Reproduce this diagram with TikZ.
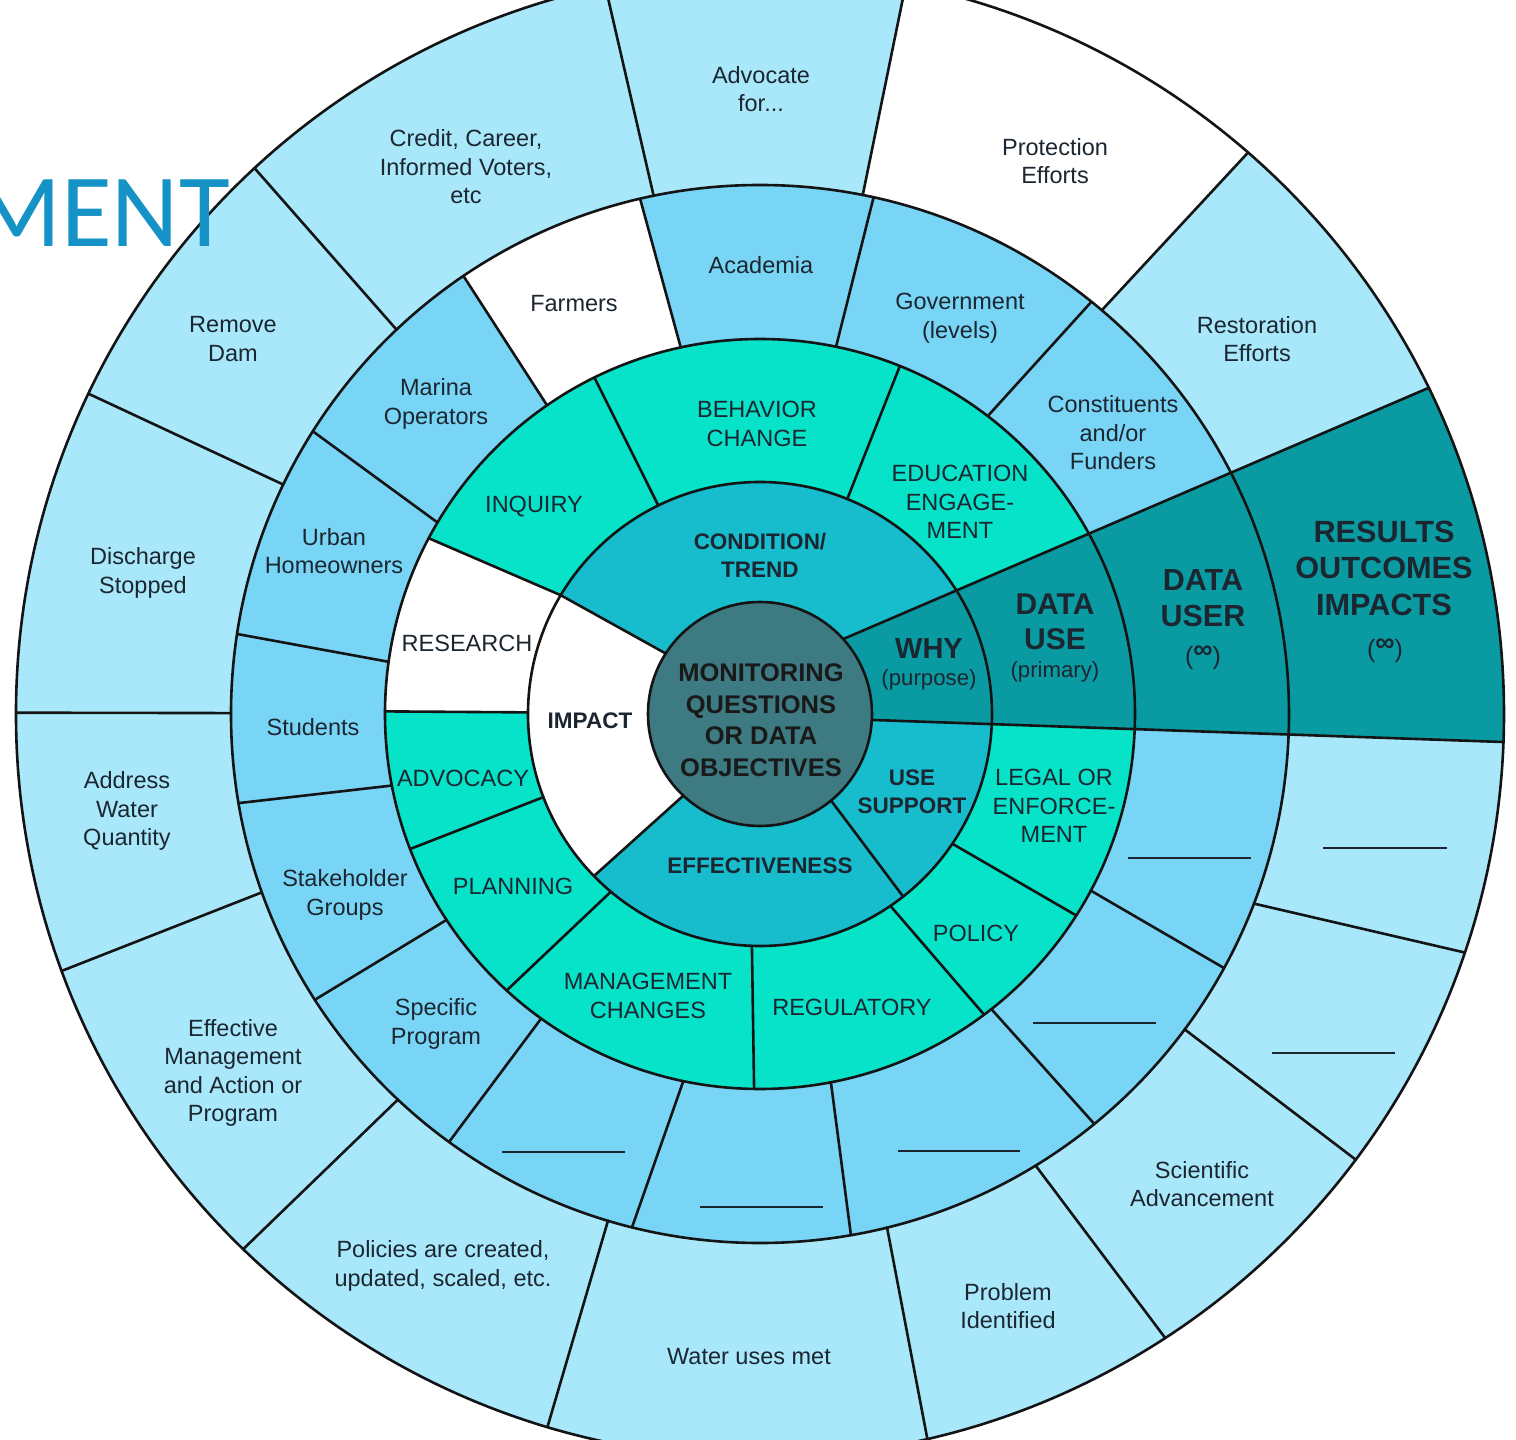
\documentclass[tikz,border=0pt]{standalone}
\usepackage{fontspec}
\setmainfont{Liberation Sans}
\newfontfamily\titlefont{Carlito}
\definecolor{ringA}{HTML}{A8E8FA}
\definecolor{ringB}{HTML}{78D5F5}
\definecolor{ringC}{HTML}{06E3C9}
\definecolor{ringD}{HTML}{17BCCD}
\definecolor{bandc}{HTML}{0A9BA2}
\definecolor{corec}{HTML}{3E7A82}
\definecolor{linec}{HTML}{141414}
\definecolor{txt}{HTML}{1B2630}
\definecolor{titleblue}{HTML}{1593C6}
% color, rin, rout, a_in, a_out, b_in, b_out
\newcommand\cellfill[7]{\fill[#1] (#4:#2) -- (#5:#3) arc[start angle=#5, end angle=#7, radius=#3] -- (#6:#2) arc[start angle=#6, end angle=#4, radius=#2] -- cycle;}
% rin, rout, a_in, a_out
\newcommand\sepline[4]{\draw[seprule] (#3:#1) -- (#4:#2);}
\newcommand\infmark{{\fontsize{25}{27}\selectfont(\raisebox{6pt}{\bfseries\fontsize{27}{28}\selectfont ∞})}}
\begin{document}
\begin{tikzpicture}[x=1pt,y=1pt,
  seprule/.style={line width=2.6pt, draw=linec, line cap=round},
  ringline/.style={line width=2.6pt, draw=linec},
  blankline/.style={line width=1.3pt, draw=txt},
  lbl/.style={font=\fontsize{23.5}{28.5}\selectfont, text=txt, align=center, inner sep=0pt},
  lblb/.style={font=\bfseries\fontsize{22.5}{28}\selectfont, text=txt, align=center, inner sep=0pt},
  corelbl/.style={font=\bfseries\fontsize{25.5}{31.5}\selectfont, text=black!90, align=center, inner sep=0pt},
  biglbl/.style={font=\bfseries\fontsize{30.5}{36}\selectfont, text=txt, align=center, inner sep=0pt},
  sublbl/.style={font=\fontsize{22.2}{25}\selectfont, text=txt, align=center, inner sep=0pt},
  inflbl/.style={text=txt, align=center, inner sep=0pt}
]
\useasboundingbox (-760,-726) rectangle (756,714);
\clip (-760,-726) rectangle (756,714);
\fill[white] (-760,-726) rectangle (756,714);

% ring fills
\fill[ringA] (0,0) circle[radius=744];
\fill[ringB] (0,0) circle[radius=529];
\fill[ringC] (0,0) circle[radius=375];
\fill[ringD] (0,0) circle[radius=232];
\fill[corec] (0,0) circle[radius=112];

% white cells
\cellfill{white}{112}{232}{147.3}{149.2}{226.8}{224.3}
\cellfill{white}{232}{375}{149.2}{152.05}{179.6}{179.6}
\cellfill{white}{375}{529}{102.2}{103.1}{124.6}{124.1}
\cellfill{white}{529}{744}{49.75}{49.0}{78.8}{78.7}

% dark teal band
\fill[bandc] (42:112) -- (26:744) arc[start angle=26, end angle=-2.16, radius=744] -- (-3.04:112) arc[start angle=-3.04, end angle=42, radius=112] -- cycle;

% circles
\foreach \r in {112,232,375,529,744} {\draw[ringline] (0,0) circle[radius=\r];}

% band lines
\draw[seprule] (42:112) -- (26:744);
\draw[seprule] (-3.04:112) -- (-2.16:744);

% ring 1 separators
\sepline{112}{232}{147.3}{149.2}
\sepline{112}{232}{226.8}{224.3}
\sepline{112}{232}{-50.6}{-51.9}

% ring 2 separators
\sepline{232}{375}{149.2}{152.05}
\sepline{232}{375}{179.6}{179.6}
\sepline{232}{375}{201}{201.1}
\sepline{232}{375}{230}{227.5}
\sepline{232}{375}{268}{269.1}
\sepline{232}{375}{-55.8}{-53.3}
\sepline{232}{375}{-34.0}{-32.5}
\sepline{232}{375}{67.9}{68.1}
\sepline{232}{375}{116.0}{116.2}

% ring 3 separators
\sepline{375}{529}{102.2}{103.1}
\sepline{375}{529}{78.3}{77.6}
\sepline{375}{529}{124.6}{124.1}
\sepline{375}{529}{149.3}{147.7}
\sepline{375}{529}{172.0}{171.3}
\sepline{375}{529}{191.0}{189.7}
\sepline{375}{529}{213.3}{212.7}
\sepline{375}{529}{234.3}{234.0}
\sepline{375}{529}{258.2}{256.0}
\sepline{375}{529}{-79.1}{-80.1}
\sepline{375}{529}{-51.9}{-50.8}
\sepline{375}{529}{-28.1}{-28.7}
\sepline{375}{529}{52.6}{51.2}

% ring 4 separators
\sepline{529}{744}{101.6}{102.0}
\sepline{529}{744}{78.8}{78.7}
\sepline{529}{744}{133.4}{132.8}
\sepline{529}{744}{154.3}{154.5}
\sepline{529}{744}{179.9}{179.9}
\sepline{529}{744}{199.7}{200.2}
\sepline{529}{744}{226.8}{226.0}
\sepline{529}{744}{253.3}{253.4}
\sepline{529}{744}{283.9}{283.0}
\sepline{529}{744}{-58.6}{-57.0}
\sepline{529}{744}{-36.6}{-36.8}
\sepline{529}{744}{-21.0}{-18.7}
\sepline{529}{744}{49.75}{49.0}

% blank entries
\draw[blankline] (563,-134) -- (687,-134);
\draw[blankline] (512,-339) -- (635,-339);
\draw[blankline] (368,-144) -- (491,-144);
\draw[blankline] (273,-309) -- (396,-309);
\draw[blankline] (138,-437) -- (260,-437);
\draw[blankline] (-60,-493) -- (63,-493);
\draw[blankline] (-258,-438) -- (-135,-438);

% outer ring labels
\node[lbl] (advocate) at (1,625) {Advocate\\for...};
\node[lbl] (credit) at (-294,547) {Credit, Career,\\Informed Voters,\\etc};
\node[lbl] (protect) at (295,553) {Protection\\Efforts};
\node[lbl] (dam) at (-527,375) {Remove\\Dam};
\node[lbl] (restore) at (497,375) {Restoration\\Efforts};
\node[lbl] (discharge) at (-617,141) {Discharge\\Stopped};
\node[lbl] (quantity) at (-633,-97) {Address\\Water\\Quantity};
\node[lbl] (effmgmt) at (-527,-359) {Effective\\Management\\and Action or\\Program};
\node[lbl] (policies) at (-317,-552) {Policies are created,\\updated, scaled, etc.};
\node[lbl] (wateruse) at (-11,-643) {Water uses met};
\node[lbl] (problem) at (248,-592) {Problem\\Identified};
\node[lbl] (science) at (442,-470) {Scientific\\Advancement};
\node[font=\bfseries\fontsize{30.7}{36.5}\selectfont, text=txt, align=center, inner sep=0pt] (results) at (624,146) {RESULTS\\OUTCOMES\\IMPACTS};
\node[inflbl] (resinf) at (625,63) {\infmark};

% ring 3 labels
\node[lbl] (academia) at (1,449) {Academia};
\node[lbl] (farmers) at (-186,410) {Farmers};
\node[lbl] (govt) at (200,396) {Government\\(levels)};
\node[lbl] (constit) at (353,281) {Constituents\\and/or\\Funders};
\node[lbl] (marina) at (-324,310) {Marina\\Operators};
\node[lbl] (urban) at (-426,163) {Urban\\Homeowners};
\node[lbl] (students) at (-447,-13) {Students};
\node[lbl] (stake) at (-415,-181) {Stakeholder\\Groups};
\node[lbl] (specific) at (-324,-310) {Specific\\Program};
\node[biglbl] (datauser) at (443,116) {DATA\\USER};
\node[inflbl] (userinf) at (443,56) {\infmark};

% ring 2 labels
\node[lbl] (behavior) at (-3,290) {BEHAVIOR\\CHANGE};
\node[lbl] (inquiry) at (-226,207) {INQUIRY};
\node[lbl] (education) at (200,212) {EDUCATION\\ENGAGE-\\MENT};
\node[lbl] (research) at (-293,71) {RESEARCH};
\node[font=\bfseries\fontsize{30}{35}\selectfont, text=txt, align=center, inner sep=0pt] (datause) at (295,92) {DATA\\USE};
\node[sublbl] (primary) at (295,42) {(primary)};
\node[lbl] (advocacy) at (-297,-64) {ADVOCACY};
\node[lbl] (planning) at (-247,-172) {PLANNING};
\node[lbl] (mgmt) at (-112,-282) {MANAGEMENT\\CHANGES};
\node[lbl] (regul) at (92,-293) {REGULATORY};
\node[lbl] (policy) at (216,-219) {POLICY};
\node[lbl] (legal) at (294,-92) {LEGAL OR\\ENFORCE-\\MENT};

% ring 1 labels
\node[lblb] (condition) at (0,159) {CONDITION/\\TREND};
\node[lblb] (impact) at (-170,-7) {IMPACT};
\node[font=\bfseries\fontsize{29}{31}\selectfont, text=txt, inner sep=0pt] (why) at (169,65) {WHY};
\node[sublbl] (purpose) at (169,34) {(purpose)};
\node[lblb] (usesupport) at (152,-78) {USE\\SUPPORT};
\node[lblb] (effect) at (0,-152) {EFFECTIVENESS};

% core
\node[corelbl] (core) at (1,-6) {MONITORING\\QUESTIONS\\OR DATA\\OBJECTIVES};

% title fragment
\node[font=\titlefont\fontsize{104}{110}\selectfont, text=titleblue, anchor=base east, inner sep=0pt] (ment) at (-530,467) {MENT};
\end{tikzpicture}
\end{document}
